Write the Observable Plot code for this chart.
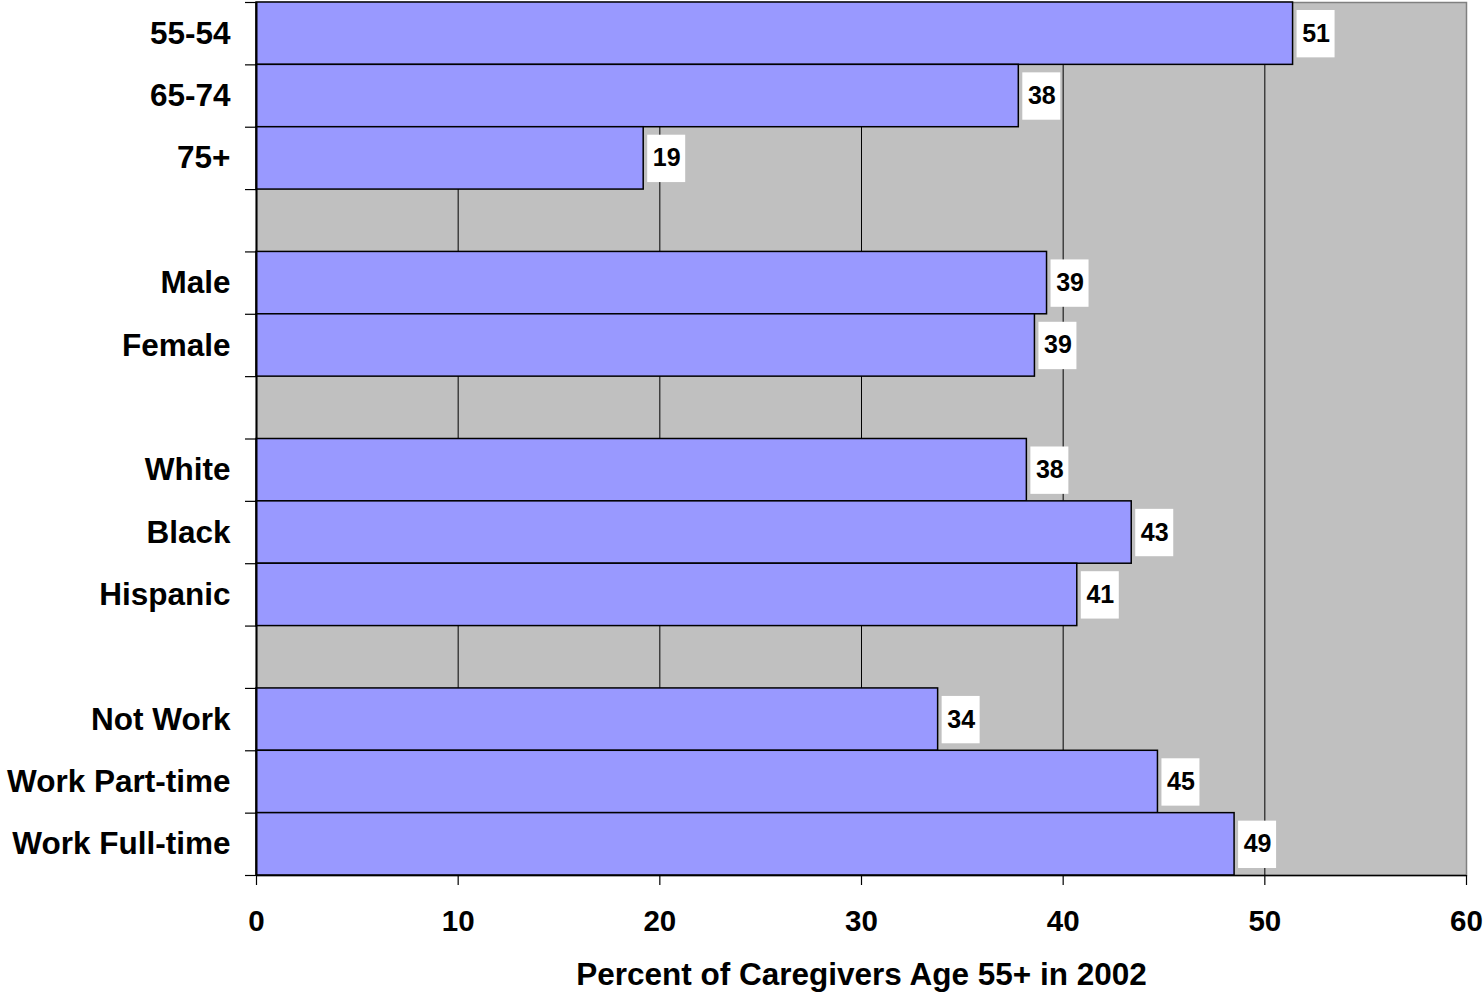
<!DOCTYPE html>
<html>
<head>
<meta charset="utf-8">
<script src="https://cdn.jsdelivr.net/npm/d3@7"></script>
<script src="https://cdn.jsdelivr.net/npm/@observablehq/plot@0.6"></script>
<style>
  html, body { margin: 0; padding: 0; background: #fff; }
</style>
</head>
<body>
<div id="chart"></div>
<script>
// Caregivers age 55+ in 2002, by age, sex, race and work status
const categories = ["55-54", "65-74", "75+", "Male", "Female", "White", "Black", "Hispanic", "Not Work", "Work Part-time", "Work Full-time"];
const percents = [51.4, 37.8, 19.2, 39.2, 38.6, 38.2, 43.4, 40.7, 33.8, 44.7, 48.5];
const groupSizes = [3, 2, 3, 3];
const xTicks = [0, 10, 20, 30, 40, 50, 60];
const xTitle = "Percent of Caregivers Age 55+ in 2002";

// Lay the categories out in rows, leaving one empty row between groups
const rows = [];
let r = 0, k = 0;
groupSizes.forEach((n) => {
  for (let j = 0; j < n; j++) {
    rows.push({label: categories[k], value: percents[k], row: r});
    k++; r++;
  }
  r++;
});
const rowCount = r - 1;
const labelAt = new Map(rows.map(d => [d.row + 0.5, d.label]));

const chart = Plot.plot({
  width: 1484,
  height: 992,
  marginLeft: 256,
  marginRight: 18,
  marginTop: 2,
  marginBottom: 117,
  style: {
    fontFamily: "'Liberation Sans', Arial, sans-serif",
    fontWeight: "bold",
    color: "black",
    background: "white"
  },
  x: {domain: [0, 60], label: null},
  y: {domain: [0, rowCount], reverse: true, label: null},
  marks: [
    Plot.frame({fill: "#c0c0c0", stroke: "#808080", strokeWidth: 1.5}),
    Plot.ruleX(xTicks.filter(t => t > 0 && t < 60), {stroke: "black", strokeWidth: 1}),
    Plot.rectX(rows, {
      x: "value", y1: "row", y2: d => d.row + 1,
      fill: "#9999ff", stroke: "black", strokeWidth: 1.5
    }),
    // white boxes behind the value labels
    Plot.rect(rows, {
      x1: "value", x2: "value", y1: "row", y2: d => d.row + 1,
      insetLeft: 4, insetRight: -42, insetTop: 8, insetBottom: 7,
      fill: "white"
    }),
    Plot.text(rows, {
      x: "value", y: d => d.row + 0.5,
      text: d => String(Math.round(d.value)),
      dx: 23, textAnchor: "middle", fontSize: 25, fill: "black"
    }),
    Plot.ruleX([0], {stroke: "black", strokeWidth: 2}),
    Plot.ruleY([rowCount], {stroke: "black", strokeWidth: 1.5}),
    // row boundary ticks
    Plot.axisY({ticks: d3.range(rowCount + 1), tickSize: 11, tickFormat: () => "", strokeWidth: 1.2}),
    // category labels
    Plot.axisY({ticks: rows.map(d => d.row + 0.5), tickFormat: v => labelAt.get(v), tickSize: 0, tickPadding: 26, fontSize: 31.5}),
    Plot.axisX({ticks: xTicks, tickSize: 10, tickPadding: 25, fontSize: 29.5, strokeWidth: 1.2}),
    Plot.text([xTitle], {frameAnchor: "bottom", dy: 109, text: d => d, fontSize: 31.5, fill: "black"})
  ]
});

document.getElementById("chart").appendChild(chart);
</script>
</body>
</html>
